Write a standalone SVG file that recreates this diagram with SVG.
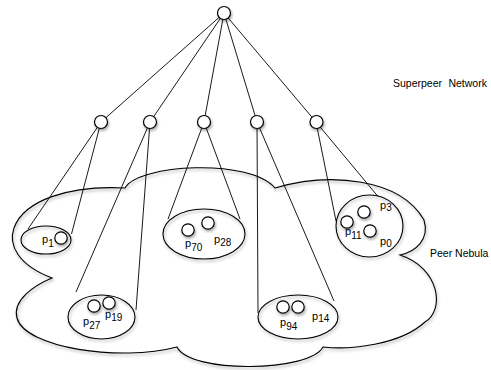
<svg xmlns="http://www.w3.org/2000/svg" width="491" height="370" viewBox="0 0 491 370">
<defs>
<filter id="sh" x="-30%" y="-30%" width="160%" height="160%">
<feDropShadow dx="1" dy="2" stdDeviation="1.8" flood-color="#000" flood-opacity="0.35"/>
</filter>
<style>
.cloud{fill:none;stroke:#000;stroke-width:1.1;filter:url(#sh)}
.grp{fill:none;stroke:#000;stroke-width:1.1;filter:url(#sh)}
.node{fill:#fff;stroke:#000;stroke-width:1.2;filter:url(#sh)}
.edge{stroke:#000;stroke-width:0.9;fill:none}
.lbl{font-family:"Liberation Sans",Arial,sans-serif;font-size:10.5px;fill:#000}
.p{font-family:"Liberation Sans",Arial,sans-serif;font-size:11px;fill:#000}
.s{font-size:10px}
</style>
</defs>
<rect width="491" height="370" fill="#fff"/>
<g id="nebula">
<path class="cloud" d="M52,278 C18,265 8,245 14,228 C24,200 70,185 125,188 C138,164 250,158 275,188 C330,172 400,178 424,220 C430,240 415,252 400,255 C440,268 445,310 425,322 C400,345 350,350 323,347 C310,372 190,374 177,347 C120,362 25,348 17,318 C12,300 35,285 52,278 Z"/>
</g>
<g id="groups">
<ellipse id="g1" class="grp" cx="46" cy="240" rx="25" ry="14"/>
<ellipse id="g2" class="grp" cx="101.5" cy="317" rx="33.5" ry="22"/>
<ellipse id="g3" class="grp" cx="204" cy="234" rx="41" ry="25"/>
<ellipse id="g4" class="grp" cx="298" cy="317" rx="40" ry="22"/>
<ellipse id="g5" class="grp" cx="369.5" cy="226" rx="33.5" ry="31"/>
</g>
<g id="connectors">
<line class="edge" x1="224" y1="13" x2="101" y2="122"/>
<line class="edge" x1="224" y1="13" x2="150" y2="122"/>
<line class="edge" x1="224" y1="13" x2="204" y2="122"/>
<line class="edge" x1="224" y1="13" x2="257" y2="122"/>
<line class="edge" x1="224" y1="13" x2="316" y2="122"/>
<line class="edge" x1="101" y1="122" x2="28" y2="229"/>
<line class="edge" x1="101" y1="122" x2="71.5" y2="234"/>
<line class="edge" x1="150" y1="122" x2="76" y2="292"/>
<line class="edge" x1="150" y1="122" x2="136" y2="310"/>
<line class="edge" x1="204" y1="122" x2="168" y2="219"/>
<line class="edge" x1="204" y1="122" x2="240" y2="219"/>
<line class="edge" x1="257" y1="122" x2="258" y2="313"/>
<line class="edge" x1="257" y1="122" x2="334" y2="301"/>
<line class="edge" x1="316" y1="122" x2="336" y2="221"/>
<line class="edge" x1="316" y1="122" x2="378" y2="196.5"/>
</g>
<g id="superpeers">
<circle id="root" class="node" cx="224" cy="13" r="6.5"/>
<circle id="sp1" class="node" cx="101" cy="122" r="6.5"/>
<circle id="sp2" class="node" cx="150" cy="122" r="6.5"/>
<circle id="sp3" class="node" cx="204" cy="122" r="6.5"/>
<circle id="sp4" class="node" cx="257" cy="122" r="6.5"/>
<circle id="sp5" class="node" cx="316.5" cy="122" r="6.5"/>
</g>
<g id="peers">
<circle id="p1" class="node" cx="61" cy="238" r="6.2"/>
<circle id="p27" class="node" cx="94" cy="306" r="6.2"/>
<circle id="p19" class="node" cx="109" cy="303" r="6.2"/>
<circle id="p70" class="node" cx="188" cy="230" r="6.2"/>
<circle id="p28" class="node" cx="208" cy="223" r="6.2"/>
<circle id="p94" class="node" cx="283" cy="307" r="6.2"/>
<circle id="p14" class="node" cx="298" cy="307" r="6.2"/>
<circle id="p3" class="node" cx="364" cy="212" r="6.2"/>
<circle id="p11" class="node" cx="347" cy="222" r="6.2"/>
<circle id="p0" class="node" cx="370" cy="231" r="6.2"/>
</g>
<g id="labels">
<text class="p" x="42" y="243">p<tspan class="s" dy="4">1</tspan></text>
<text class="p" x="83" y="325">p<tspan class="s" dy="4">27</tspan></text>
<text class="p" x="105" y="318">p<tspan class="s" dy="3">19</tspan></text>
<text class="p" x="185" y="247">p<tspan class="s" dy="4">70</tspan></text>
<text class="p" x="214" y="243">p<tspan class="s" dy="3">28</tspan></text>
<text class="p" x="280" y="326">p<tspan class="s" dy="4">94</tspan></text>
<text class="p" x="312" y="320">p<tspan class="s" dy="2">14</tspan></text>
<text class="p" x="380" y="209">p<tspan class="s" dy="2">3</tspan></text>
<text class="p" x="345" y="235">p<tspan class="s" dy="4">11</tspan></text>
<text class="p" x="380" y="245">p<tspan class="s" dy="2">0</tspan></text>
<text class="lbl" x="393" y="87" word-spacing="3.5">Superpeer Network</text>
<text class="lbl" x="430" y="257">Peer Nebula</text>
</g>
</svg>
